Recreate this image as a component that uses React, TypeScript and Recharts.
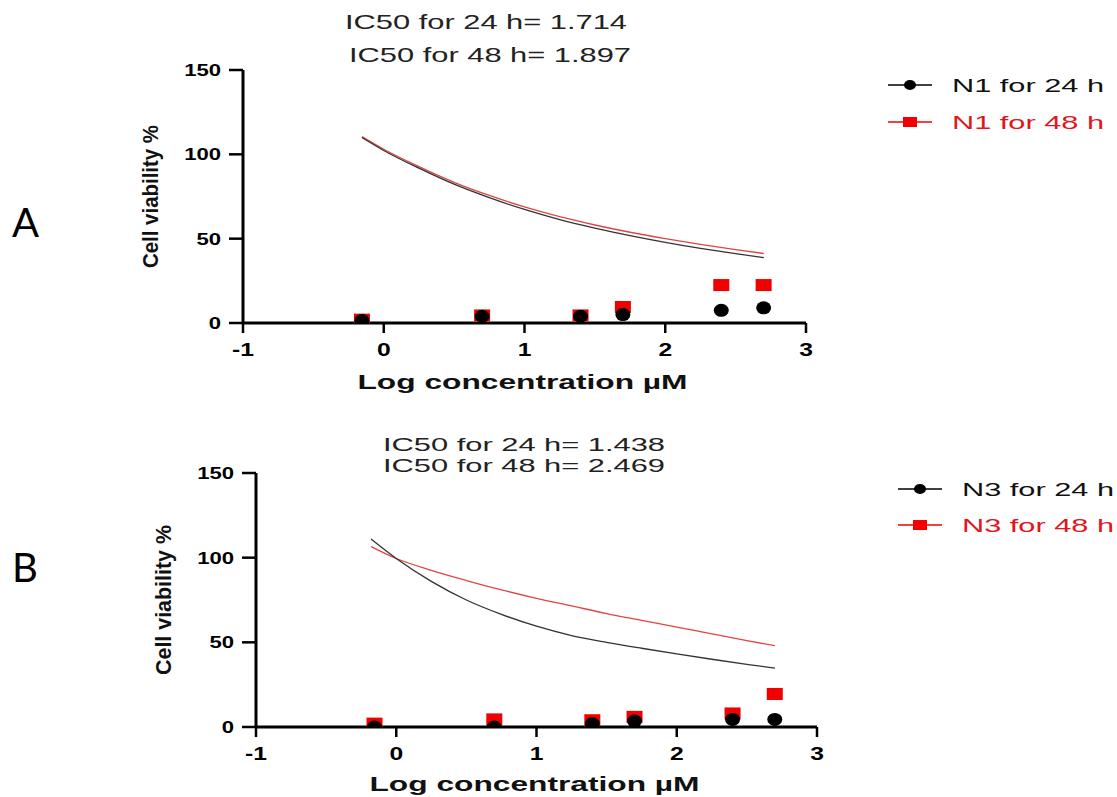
import React from 'react';
import { ComposedChart, Line, Scatter, XAxis, YAxis } from 'recharts';

// log10 of the tested concentrations (µM)
const logConc = [-0.155, 0.699, 1.398, 1.699, 2.398, 2.699];

const n1Via24 = [1.5, 4, 4, 5, 7.5, 9];
const n1Via48 = [2, 4.5, 4.5, 9.5, 22.5, 22.5];
const n3Via24 = [0, 0, 2, 3.5, 4.5, 4.5];
const n3Via48 = [2, 4.5, 4, 6, 8, 19.5];

// fitted curves, sampled off the figure
const fitXA = [-0.155, 0, 0.25, 0.5, 0.75, 1, 1.25, 1.5, 1.75, 2, 2.25, 2.5, 2.7];
const n1Fit24 = [110, 102.3, 91.8, 82.3, 74.3, 67.3, 61.3, 56.3, 51.8, 47.8, 44.3, 41.1, 38.7];
const n1Fit48 = [110.5, 103, 92.7, 83.4, 75.6, 68.8, 63, 58.1, 53.8, 50, 46.6, 43.5, 41.2];

const fitXB = [-0.18, 0, 0.25, 0.5, 0.75, 1, 1.25, 1.5, 1.75, 2, 2.25, 2.5, 2.7];
const n3Fit24 = [111, 99.5, 86, 75, 66.5, 59.5, 54, 50, 46.5, 43.2, 40, 37, 34.8];
const n3Fit48 = [106.5, 99.5, 92.5, 86.5, 81, 76, 71.5, 67, 63, 59, 55, 51, 48];

const xTicks = [-1, 0, 1, 2, 3];
const yTicks = [0, 50, 100, 150];

const titlesA = ['IC50 for 24 h= 1.714', 'IC50 for 48 h= 1.897'];
const titlesB = ['IC50 for 24 h= 1.438', 'IC50 for 48 h= 2.469'];
const seriesA = ['N1 for 24 h', 'N1 for 48 h'];
const seriesB = ['N3 for 24 h', 'N3 for 48 h'];

const RED = '#f20000';
const FONT = '"Liberation Sans", Arial, sans-serif';

const toPts = (xs: number[], ys: number[]) => xs.map((x, i) => ({ x, y: ys[i] }));

const BlackDot = (p: any) => <ellipse cx={p.cx} cy={p.cy} rx={7.5} ry={6.5} fill="#000" />;
const RedSquare = (p: any) => <rect x={p.cx - 8} y={p.cy - 6} width={16} height={12} fill={RED} />;

const YTick = (p: any) => (
  <g transform={`translate(${p.x},${p.y})`}>
    <text transform="scale(1.3,1)" textAnchor="end" dy={6} fontSize={17} fontWeight="bold" fontFamily={FONT} fill="#000">
      {p.payload.value}
    </text>
  </g>
);

const XTick = (p: any) => (
  <g transform={`translate(${p.x},${p.y})`}>
    <text transform="scale(1.3,1)" textAnchor="middle" dy={19} fontSize={19} fontWeight="bold" fontFamily={FONT} fill="#000">
      {p.payload.value}
    </text>
  </g>
);

interface PanelProps {
  tag: string;
  top: number;
  height: number;
  margin: { top: number; right: number; bottom: number; left: number };
  titles: string[];
  titleSize: number;
  titleY: number[];
  titleX: number[];
  series: string[];
  legendY: number[];
  legendX: number;
  tagY: number;
  yLabelLen: number;
  xLabelY: number;
  fitX: number[];
  fit24: number[];
  fit48: number[];
  via24: number[];
  via48: number[];
}

const Panel: React.FC<PanelProps> = (props) => {
  const { margin, legendX } = props;

  const yLabel = ({ viewBox }: any) => {
    const cx = viewBox.x - 33;
    const cy = viewBox.y + viewBox.height / 2;
    return (
      <text x={cx} y={cy} transform={`rotate(-90 ${cx} ${cy})`} textAnchor="middle" dominantBaseline="central"
        fontSize={22} fontWeight="bold" fontFamily={FONT} fill="#111" textLength={props.yLabelLen} lengthAdjust="spacingAndGlyphs">
        Cell viability %
      </text>
    );
  };

  const xLabel = ({ viewBox }: any) => (
    <text x={viewBox.x + viewBox.width / 2 - 2} y={viewBox.y + props.xLabelY} textAnchor="middle"
      fontSize={20} fontWeight="bold" fontFamily={FONT} fill="#111" textLength={330} lengthAdjust="spacingAndGlyphs">
      Log concentration µM
    </text>
  );

  return (
    <div style={{ position: 'absolute', left: 0, top: props.top, width: 1117, height: props.height }}>
      <ComposedChart width={1117} height={props.height} margin={margin}>
        <XAxis type="number" dataKey="x" domain={[-1, 3]} ticks={xTicks} interval={0} allowDataOverflow
          height={60} tickSize={10} tickMargin={4} tick={<XTick />}
          axisLine={{ stroke: '#000', strokeWidth: 3 }} tickLine={{ stroke: '#000', strokeWidth: 2.5 }}
          label={xLabel} />
        <YAxis type="number" domain={[0, 150]} ticks={yTicks} interval={0} allowDataOverflow
          width={60} tickSize={14} tickMargin={8} tick={<YTick />}
          axisLine={{ stroke: '#000', strokeWidth: 3 }} tickLine={{ stroke: '#000', strokeWidth: 2.5 }}
          label={yLabel} />
        <Line data={toPts(props.fitX, props.fit48)} dataKey="y" type="monotone" stroke="#e04545" strokeWidth={1.3} dot={false} isAnimationActive={false} />
        <Line data={toPts(props.fitX, props.fit24)} dataKey="y" type="monotone" stroke="#333" strokeWidth={1.3} dot={false} isAnimationActive={false} />
        <Scatter data={toPts(logConc, props.via48)} dataKey="y" shape={RedSquare} isAnimationActive={false} />
        <Scatter data={toPts(logConc, props.via24)} dataKey="y" shape={BlackDot} isAnimationActive={false} />
      </ComposedChart>
      <svg width={1117} height={props.height} style={{ position: 'absolute', left: 0, top: 0, pointerEvents: 'none' }}>
        <text x={12} y={props.tagY} fontSize={40} fontFamily="Lato, sans-serif" fill="#000">{props.tag}</text>
        {props.titles.map((t, i) => (
          <text key={t} x={props.titleX[i]} y={props.titleY[i]} textAnchor="middle" fontSize={props.titleSize}
            fontFamily={FONT} fill="#222" textLength={282} lengthAdjust="spacingAndGlyphs">{t}</text>
        ))}
        {props.series.map((s, i) => {
          const cy = props.legendY[i];
          const color = i === 0 ? '#000' : RED;
          return (
            <g key={s}>
              <line x1={legendX} x2={legendX + 44} y1={cy} y2={cy} stroke={color} strokeWidth={1.5} />
              {i === 0
                ? <ellipse cx={legendX + 22} cy={cy} rx={6} ry={5} fill="#000" />
                : <rect x={legendX + 15} y={cy - 5} width={14} height={10} fill={RED} />}
              <text x={legendX + 64} y={cy + 7} fontSize={19} fontFamily={FONT} fill={i === 0 ? '#111' : '#e3141c'}
                textLength={152} lengthAdjust="spacingAndGlyphs">{s}</text>
            </g>
          );
        })}
      </svg>
    </div>
  );
};

export default function App() {
  return (
    <div style={{ position: 'relative', width: 1117, height: 797, background: '#fff', overflow: 'hidden' }}>
      <style>{'body{margin:0}'}</style>
      <Panel tag="A" top={0} height={400} margin={{ top: 70, right: 311, bottom: 17, left: 183 }}
        titles={titlesA} titleSize={21} titleY={[29, 62]} titleX={[486, 490]}
        series={seriesA} legendY={[85, 122]} legendX={888} tagY={237}
        yLabelLen={143} xLabelY={66}
        fitX={fitXA} fit24={n1Fit24} fit48={n1Fit48} via24={n1Via24} via48={n1Via48} />
      <Panel tag="B" top={400} height={397} margin={{ top: 73, right: 300, bottom: 10, left: 196 }}
        titles={titlesB} titleSize={18} titleY={[51, 72]} titleX={[524, 524]}
        series={seriesB} legendY={[89, 125]} legendX={898} tagY={182}
        yLabelLen={150} xLabelY={64}
        fitX={fitXB} fit24={n3Fit24} fit48={n3Fit48} via24={n3Via24} via48={n3Via48} />
    </div>
  );
}
